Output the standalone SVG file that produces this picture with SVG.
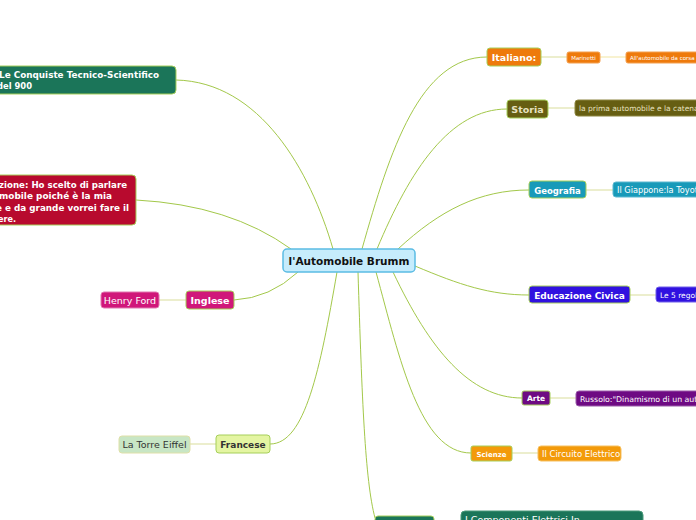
<svg xmlns="http://www.w3.org/2000/svg" width="696" height="520" viewBox="0 0 696 520">
<style>
text{font-family:"DejaVu Sans",Verdana,sans-serif}
.b{font-weight:bold}
.main{fill:none;stroke:#a3c84a;stroke-width:1}
.sub{fill:none;stroke:#e6e9bd;stroke-width:1.5}
.gs{stroke:#a6cf5a;stroke-width:1}
</style>
<rect width="696" height="520" fill="#ffffff"/>
<g id="connectors">
<path class="main" d="M333,249 C310,170 260,82 176,80"/>
<path class="main" d="M291,249 Q230,205 136,200"/>
<path class="main" d="M298,272 Q270,298 234,300"/>
<path class="main" d="M337,272 C320,370 305,444 270,444"/>
<path class="main" d="M362,249 C390,150 420,57 487,57"/>
<path class="main" d="M377,249 C410,170 450,109 507,109"/>
<path class="main" d="M398,249 C440,210 480,190 529,190"/>
<path class="main" d="M415,266 C460,285 490,295 529,295"/>
<path class="main" d="M393,272 C430,350 470,398 522,398"/>
<path class="main" d="M376,272 C400,360 420,453 471,453"/>
<path class="main" d="M358,272 C362,400 365,480 375,518"/>
<path class="sub" d="M159,300 H186"/>
<path class="sub" d="M190,444 H216"/>
<path class="sub" d="M541,57 H567"/>
<path class="sub" d="M600,57 H626" style="stroke:#f6eec0"/>
<path class="sub" d="M548,108 H575"/>
<path class="sub" d="M586,190 H613"/>
<path class="sub" d="M630,295 H656"/>
<path class="sub" d="M550,398 H576"/>
<path class="sub" d="M512,453 H538"/>
</g>
<g id="center">
<rect x="283" y="249" width="132" height="23" rx="4" fill="#c6ecfc" stroke="#5bbce4" stroke-width="1.5"/>
<text x="349" y="265" class="b" font-size="10.5" text-anchor="middle" fill="#111">l'Automobile Brumm</text>
</g>
<g id="conquiste">
<rect x="-10" y="66" width="186" height="28" rx="4" fill="#1b7559" class="gs"/>
<text x="-1" y="78" class="b" font-size="9" fill="#ffffff" textLength="160" lengthAdjust="spacingAndGlyphs">Le Conquiste Tecnico-Scientifico</text>
<text x="-3" y="89" class="b" font-size="9" fill="#ffffff" textLength="35" lengthAdjust="spacingAndGlyphs">del 900</text>
</g>
<g id="introduzione">
<rect x="-10" y="175" width="146" height="50" rx="4" fill="#b80a2e" class="gs"/>
<text x="-1" y="187.5" class="b" font-size="9" fill="#ffffff" textLength="128" lengthAdjust="spacingAndGlyphs">zione: Ho scelto di parlare</text>
<text x="-1" y="199" class="b" font-size="9" fill="#ffffff" textLength="113" lengthAdjust="spacingAndGlyphs">mobile poiché è la mia</text>
<text x="-4" y="210.5" class="b" font-size="9" fill="#ffffff" textLength="133" lengthAdjust="spacingAndGlyphs">e e da grande vorrei fare il</text>
<text x="-2" y="222" class="b" font-size="9" fill="#ffffff" textLength="18" lengthAdjust="spacingAndGlyphs">ere.</text>
</g>
<g id="henryford">
<rect x="101" y="292" width="58" height="16" rx="3" fill="#d0177a" stroke="#e07ab0"/>
<text x="130" y="303.5" font-size="9.5" text-anchor="middle" fill="#ffffff">Henry Ford</text>
</g>
<g id="inglese">
<rect x="186" y="291" width="48" height="18" rx="3" fill="#d0177a" class="gs"/>
<text x="210" y="303.5" class="b" font-size="9.5" text-anchor="middle" fill="#ffffff">Inglese</text>
</g>
<g id="torre">
<rect x="119" y="436" width="71" height="17" rx="3" fill="#c8e6c5" stroke="#dfe0a8"/>
<text x="154.5" y="448" font-size="9.5" text-anchor="middle" fill="#333">La Torre Eiffel</text>
</g>
<g id="francese">
<rect x="216" y="435" width="54" height="18" rx="3" fill="#e4f5a2" class="gs"/>
<text x="243" y="448" class="b" font-size="9" text-anchor="middle" fill="#333">Francese</text>
</g>
<g id="italiano">
<rect x="487" y="48" width="54" height="18" rx="3" fill="#ee7a0c" class="gs"/>
<text x="514" y="61" class="b" font-size="9.5" text-anchor="middle" fill="#ffffff">Italiano:</text>
</g>
<g id="marinetti">
<rect x="567" y="52" width="33" height="11" rx="2" fill="#ee7a0c" stroke="#f3a050"/>
<text x="583.5" y="60" font-size="5.5" text-anchor="middle" fill="#ffffff">Marinetti</text>
</g>
<g id="automobiledacorsa">
<rect x="626" y="52" width="80" height="11" rx="2" fill="#ee7a0c" stroke="#f3a050"/>
<text x="630" y="60" font-size="5.5" fill="#ffffff">All'automobile da corsa</text>
</g>
<g id="storia">
<rect x="507" y="100" width="41" height="18" rx="3" fill="#665e12" class="gs"/>
<text x="527.5" y="113" class="b" font-size="9.5" text-anchor="middle" fill="#e6e2c0">Storia</text>
</g>
<g id="primaautomobile">
<rect x="575" y="100" width="130" height="16" rx="3" fill="#665e12" stroke="#8c8540"/>
<text x="579" y="111" font-size="7.5" fill="#e6e2c0">la prima automobile e la catena</text>
</g>
<g id="geografia">
<rect x="529" y="181" width="57" height="17" rx="3" fill="#189ab9" class="gs"/>
<text x="557.5" y="193.5" class="b" font-size="8.5" text-anchor="middle" fill="#ffffff">Geografia</text>
</g>
<g id="giappone">
<rect x="613" y="182" width="90" height="15" rx="3" fill="#189ab9" stroke="#5cb8d0"/>
<text x="617" y="193" font-size="8.2" fill="#ffffff">Il Giappone:la Toyota</text>
</g>
<g id="educazione">
<rect x="529" y="286" width="101" height="17" rx="3" fill="#3011e0" class="gs"/>
<text x="579.5" y="298.5" class="b" font-size="9" text-anchor="middle" fill="#ffffff">Educazione Civica</text>
</g>
<g id="regole">
<rect x="656" y="287" width="50" height="15" rx="3" fill="#3011e0" stroke="#7060e8"/>
<text x="660" y="297.5" font-size="7.5" fill="#ffffff">Le 5 regole</text>
</g>
<g id="arte">
<rect x="522" y="391" width="28" height="14" rx="2" fill="#6e0a83" class="gs"/>
<text x="536" y="401" class="b" font-size="7.5" text-anchor="middle" fill="#ffffff">Arte</text>
</g>
<g id="russolo">
<rect x="576" y="391" width="130" height="15" rx="3" fill="#6e0a83" stroke="#9a5aa8"/>
<text x="580" y="401.5" font-size="7.8" fill="#ffffff">Russolo:"Dinamismo di un automobile"</text>
</g>
<g id="scienze">
<rect x="471" y="446" width="41" height="15" rx="2" fill="#f39a0a" class="gs"/>
<text x="491.5" y="456.5" class="b" font-size="7" text-anchor="middle" fill="#ffffff">Scienze</text>
</g>
<g id="circuito">
<rect x="538" y="446" width="83" height="15" rx="3" fill="#f39a0a" stroke="#f6c060"/>
<text x="542" y="457" font-size="8.5" fill="#ffffff">Il Circuito Elettrico</text>
</g>
<g id="tecnologia">
<rect x="375" y="516" width="59" height="14" rx="3" fill="#1b7559" class="gs"/>
</g>
<g id="componenti">
<rect x="461" y="511" width="182" height="20" rx="4" fill="#1b7559" stroke="#4a9a7a"/>
<text x="465" y="523" font-size="9.5" fill="#ffffff">I Componenti Elettrici In</text>
</g>
</svg>
